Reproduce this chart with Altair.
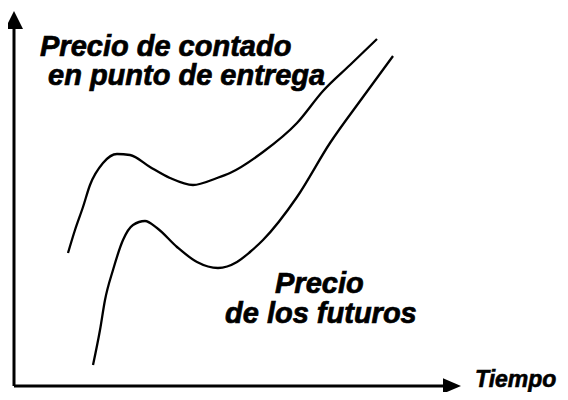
import altair as alt
import pandas as pd

# Curve data (time, price)
spot_t = [5.4, 6.1, 6.9, 7.6, 8.9, 10.3, 11.6, 13.6, 15.6, 17.9, 20.3, 21.6, 24.9, 28.3, 30.9, 33.6, 36.3]
spot_p = [13.3, 15.6, 17.9, 20.1, 22.3, 23.2, 23.1, 21.9, 20.8, 20.1, 20.8, 21.3, 23.4, 26.3, 29.5, 32.1, 34.7]

fut_t = [7.9, 8.6, 9.1, 9.9, 10.9, 11.9, 13.1, 14.3, 16.3, 18.3, 20.4, 22.3, 23.6, 24.9, 28.3, 31.6, 34.9, 37.9]
fut_p = [2.1, 5.6, 8.6, 11.6, 14.6, 16.1, 16.5, 15.8, 13.9, 12.4, 11.8, 12.4, 13.4, 14.6, 18.9, 24.3, 28.9, 33.0]

# Axis extents
axis_x_end = 43.1
axis_y_end = 36.1
arrow_x_pos = 43.8
arrow_y_pos = 36.6

# Labels
label_text = ["Precio de contado", "en punto de entrega", "Precio", "de los futuros"]
label_t = [2.6, 3.4, 26.1, 21.1]
label_p = [33.0, 30.1, 9.3, 6.3]
xlabel_text = ["Tiempo"]
xlabel_t = [46.1]
xlabel_p = [-0.6]

xs = alt.Scale(domain=[-0.6, 54.6], nice=False, zero=False)
ys = alt.Scale(domain=[-0.6, 37.8], nice=False, zero=False)

curves = pd.DataFrame({
    "t": spot_t + fut_t,
    "p": spot_p + fut_p,
    "serie": ["spot"] * len(spot_t) + ["fut"] * len(fut_t),
})
axes_df = pd.DataFrame({"x": [0, 0], "y": [0, 0], "x2": [0, axis_x_end], "y2": [axis_y_end, 0]})
labels_df = pd.DataFrame({"t": label_t, "p": label_p, "txt": label_text})
xlabel_df = pd.DataFrame({"t": xlabel_t, "p": xlabel_p, "txt": xlabel_text})

X = lambda f: alt.X(f, type="quantitative", scale=xs, axis=None)
Y = lambda f: alt.Y(f, type="quantitative", scale=ys, axis=None)

axes = alt.Chart(axes_df).mark_rule(color="black", strokeWidth=3).encode(
    x=X("x"), y=Y("y"), x2="x2", y2="y2"
)

arrow_up = alt.Chart(pd.DataFrame({"x": [0], "y": [arrow_y_pos]})).mark_point(
    shape="M0,-1L1,1L-1,1Z", filled=True, color="black", opacity=1, size=324, strokeWidth=0
).encode(x=X("x"), y=Y("y"))

arrow_right = alt.Chart(pd.DataFrame({"x": [arrow_x_pos], "y": [0]})).mark_point(
    shape="M-1,-0.85L1,0L-1,0.85Z", filled=True, color="black", opacity=1, size=324, strokeWidth=0
).encode(x=X("x"), y=Y("y"))

lines = alt.Chart(curves).mark_line(color="black", strokeWidth=2.3, interpolate="monotone").encode(
    x=X("t"), y=Y("p"), detail="serie:N", order="t:Q"
)

labels = alt.Chart(labels_df).mark_text(
    font="Liberation Sans", fontSize=29, fontWeight="bold", fontStyle="italic",
    align="left", baseline="alphabetic", color="black", stroke="black", strokeWidth=0.7
).encode(x=X("t"), y=Y("p"), text="txt:N")

xlabel = alt.Chart(xlabel_df).mark_text(
    font="Liberation Sans", fontSize=23, fontWeight="bold", fontStyle="italic",
    align="left", baseline="bottom", color="black", stroke="black", strokeWidth=0.6
).encode(x=X("t"), y=Y("p"), text="txt:N")

chart = alt.layer(axes, lines, arrow_up, arrow_right, labels, xlabel).properties(
    width=552, height=384, padding=0, autosize="none", background="white"
).configure_view(stroke=None)

chart.save("out.html", embed_options={"renderer": "svg", "actions": False})
